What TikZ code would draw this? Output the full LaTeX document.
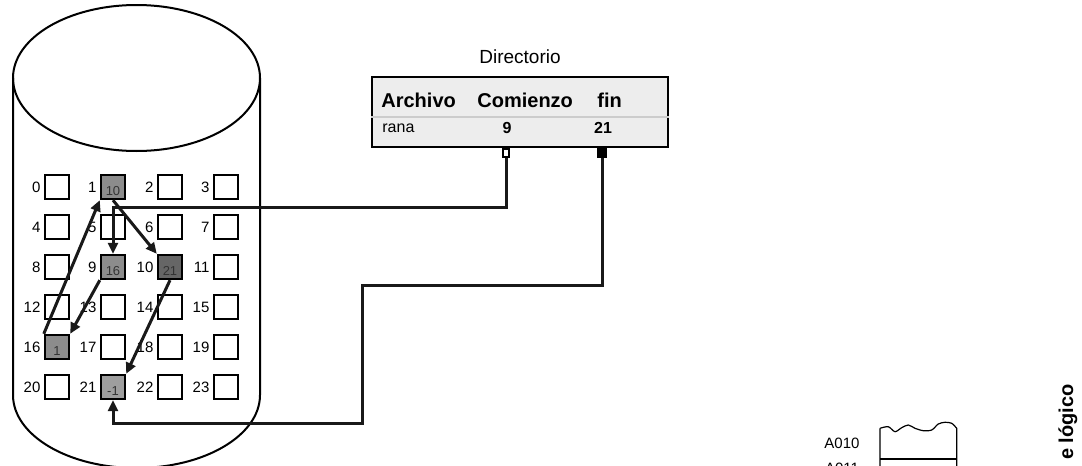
\documentclass[tikz,border=0pt]{standalone}
\usepackage{fontspec}
\setmainfont{Liberation Sans}
\usepackage{tikz}
\usetikzlibrary{arrows.meta}

\tikzset{
  blk/.style={draw,line width=1.2pt,fill=white,minimum size=12pt,inner sep=0pt},
  used/.style={blk,fill=black!45},
  num/.style={font=\fontsize{7.5}{8}\selectfont,inner sep=0.5pt,label distance=1pt},
  inlbl/.style={font=\fontsize{6.5}{7}\selectfont,text=black!80,yshift=-2pt,inner sep=0pt},
  link/.style={line width=1.5pt,black!90},
  cyl/.style={line width=1pt},
  hdr/.style={font=\bfseries\fontsize{10}{12}\selectfont,anchor=west,inner sep=0pt},
  cell/.style={font=\fontsize{8}{10}\selectfont,inner sep=0pt}
}

\begin{document}
\begin{tikzpicture}[x=0.5pt,y=-0.5pt,>={Triangle[length=5.5pt,width=5pt]}]
  \useasboundingbox (0,0) rectangle (1082,466);
  % disco
  \draw[cyl] (136.5,78) ellipse [x radius=123.5, y radius=73];
  \draw[cyl] (13,78) -- (13,395) arc [start angle=180, end angle=0, x radius=123.5, y radius=73] -- (260,78);
  % bloques
  \node[blk,label={[num]left:0}] (b0) at (57,187) {};
  \node[used,label={[num]left:1},label={[inlbl]center:10}] (b1) at (113,187) {};
  \node[blk,label={[num]left:2}] (b2) at (170,187) {};
  \node[blk,label={[num]left:3}] (b3) at (226,187) {};
  \node[blk,label={[num]left:4}] (b4) at (57,227) {};
  \node[blk,label={[num]left:5}] (b5) at (113,227) {};
  \node[blk,label={[num]left:6}] (b6) at (170,227) {};
  \node[blk,label={[num]left:7}] (b7) at (226,227) {};
  \node[blk,label={[num]left:8}] (b8) at (57,267) {};
  \node[used,label={[num]left:9},label={[inlbl]center:16}] (b9) at (113,267) {};
  \node[used,fill=black!60,label={[num]left:10},label={[inlbl]center:21}] (b10) at (170,267) {};
  \node[blk,label={[num]left:11}] (b11) at (226,267) {};
  \node[blk,label={[num]left:12}] (b12) at (57,307) {};
  \node[blk,label={[num]left:13}] (b13) at (113,307) {};
  \node[blk,label={[num]left:14}] (b14) at (170,307) {};
  \node[blk,label={[num]left:15}] (b15) at (226,307) {};
  \node[used,label={[num]left:16},label={[inlbl]center:1}] (b16) at (57,347) {};
  \node[blk,label={[num]left:17}] (b17) at (113,347) {};
  \node[blk,label={[num]left:18}] (b18) at (170,347) {};
  \node[blk,label={[num]left:19}] (b19) at (226,347) {};
  \node[blk,label={[num]left:20}] (b20) at (57,387) {};
  \node[used,fill=black!38,label={[num]left:21},label={[inlbl]center:-1}] (b21) at (113,387) {};
  \node[blk,label={[num]left:22}] (b22) at (170,387) {};
  \node[blk,label={[num]left:23}] (b23) at (226,387) {};
  % directorio
  \node[font=\fontsize{9.5}{11}\selectfont] (dirt) at (520,57) {Directorio};
  \node[draw,line width=1.3pt,fill=black!7,minimum width=148pt,minimum height=35pt,inner sep=0pt] (dir) at (520,112) {};
  \draw[black!20,line width=0.6pt] (dir.west |- 0,117) -- (dir.east |- 0,117);
  \node[hdr] (harch) at (381,100) {Archivo};
  \node[hdr] (hcom) at (477,100) {Comienzo};
  \node[hdr] (hfin) at (597,100) {fin};
  \node[cell,anchor=west] (rana) at (382,128) {rana};
  \node[cell,font=\bfseries\fontsize{8}{10}\selectfont] (ini) at (507,128) {9};
  \node[cell,font=\bfseries\fontsize{8}{10}\selectfont] (fin) at (603,128) {21};
  \node[draw,line width=0.8pt,fill=white,minimum width=3pt,minimum height=4pt,inner sep=0pt] (sc) at (506,153) {};
  \node[fill=black,minimum width=5pt,minimum height=5pt,inner sep=0pt] (sf) at (602,153) {};
  \coordinate (cturn) at (113,207);
  \coordinate (f1) at (362,285);
  \coordinate (f2) at (113,423);
  % punteros
  \draw[link,->] (sc.south) |- (cturn) -- (b9.north);
  \draw[link,->] (sf.south) |- (f1) |- (f2) -- (b21.south);
  \draw[link,->] (b1.south) -- (b10.north west);
  \draw[link,->] (b10.south) -- (b21.north east);
  \draw[link,->] (b9.south west) -- (b16.north east);
  \draw[link,->] (b16.north west) -- (b1.south west);
  % registro (recortado)
  \node[font=\fontsize{7.5}{9}\selectfont] (a10) at (842,443) {A010};
  \node[font=\fontsize{7.5}{9}\selectfont] (a11) at (842,468) {A011};
  \draw[line width=0.6pt] (880,470) -- (880,428.3)
    plot[smooth] coordinates {(880,428.3) (888.3,426.7) (895,431.7) (901.7,427.7) (908.3,425) (915,428.3) (923.3,430.7) (931.7,430) (938.3,424) (945,422.3) (951.7,423.3) (956.7,428.3)}
    -- (956.7,470);
  \draw[line width=0.6pt] (880,459) -- (956.7,459);
  \node[font=\bfseries\fontsize{10}{12}\selectfont,rotate=90,anchor=east,inner sep=0pt] (lg) at (1068,384) {e lógico};
\end{tikzpicture}
\end{document}
